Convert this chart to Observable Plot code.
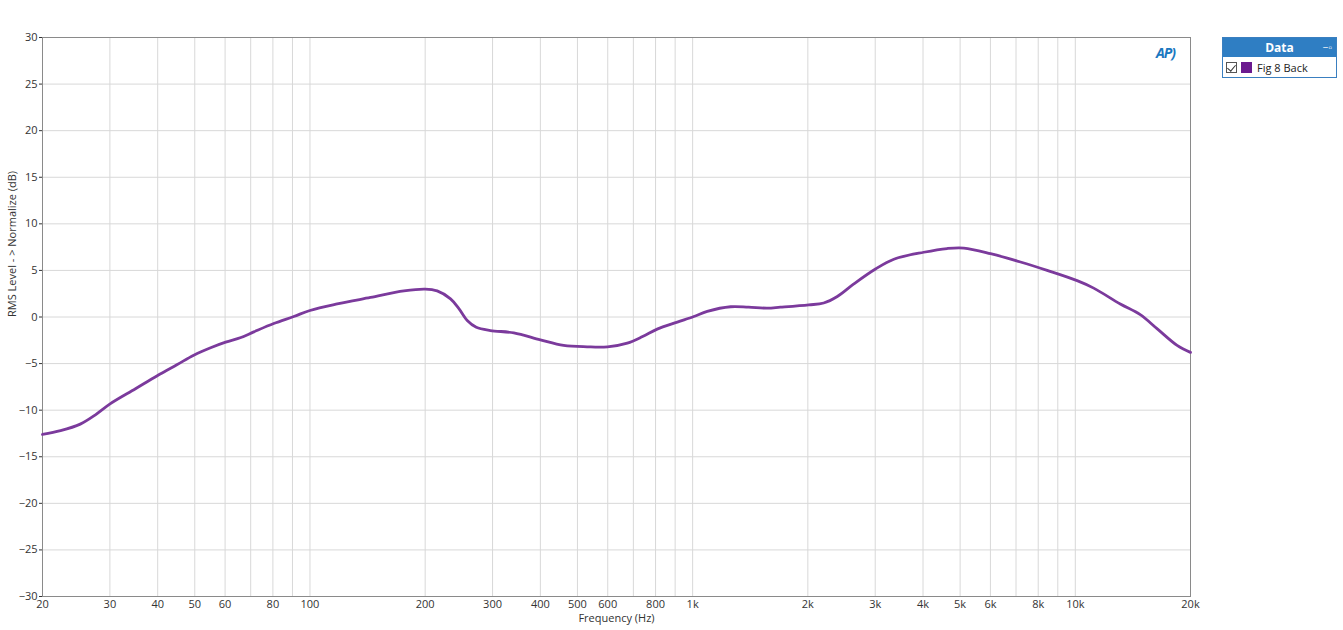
<!DOCTYPE html>
<html>
<head>
<meta charset="utf-8">
<script src="https://cdn.jsdelivr.net/npm/d3@7"></script>
<script src="https://cdn.jsdelivr.net/npm/@observablehq/plot@0.6"></script>
<style>
  body { margin: 0; background: #fff; font-family: "Open Sans", "Noto Sans", sans-serif; }
  #wrap { position: relative; width: 1343px; height: 630px; }
  #logo { position: absolute; left: 1156px; top: 43px; color: #1b78c0; font: italic bold 14px "Open Sans", sans-serif; letter-spacing: -1px; }
  #legend { position: absolute; left: 1222px; top: 37px; width: 115px; height: 41px; border: 1px solid #3a7fc0; background: #fff; box-sizing: border-box; }
  #legend .hd { height: 19px; background: #2f7ec3; color: #fff; font: bold 12px "Open Sans", sans-serif; text-align: center; line-height: 19px; position: relative; }
  #legend .hd .pin { position: absolute; right: 4px; top: 0px; font-size: 10px; font-weight: normal; }
  #legend .row { height: 20px; display: flex; align-items: center; font: 11px "Open Sans", sans-serif; color: #222; }
  #legend .cb { width: 11px; height: 11px; border: 1px solid #555; box-sizing: border-box; margin-left: 3px; position: relative; }
  #legend .cb::after { content: ""; position: absolute; left: 2px; top: 0px; width: 4px; height: 7px; border-right: 1.3px solid #333; border-bottom: 1.3px solid #333; transform: rotate(40deg); }
  #legend .sw { width: 11px; height: 11px; background: #6b1a8f; margin-left: 4px; margin-right: 5px; }
</style>
</head>
<body>
<div id="wrap">
  <div id="chart"></div>
  <div id="logo">AP)</div>
  <div id="legend">
    <div class="hd">Data<span class="pin">&#x2212;&#x25AB;</span></div>
    <div class="row"><div class="cb"></div><div class="sw"></div><span id="legname"></span></div>
  </div>
</div>
<script>
const seriesName = "Fig 8 Back";
const freq = [20, 22.3, 25.1, 27.5, 30.1, 35, 39.9, 45, 49.7, 55, 60.2, 66, 71.3, 80.4, 90.7, 100, 117.8, 143.9, 176, 200, 215, 233, 245, 258, 272, 296, 341, 400, 460, 530, 599, 675, 740, 808, 912, 1007, 1092, 1257, 1400, 1567, 1695, 2011, 2200, 2388, 2638, 3005, 3356, 4017, 4624, 5113, 6004, 7190, 8440, 10110, 11170, 13110, 14780, 16350, 18450, 20000];
const level = [-12.6, -12.2, -11.5, -10.5, -9.3, -7.7, -6.3, -5.1, -4.1, -3.3, -2.7, -2.2, -1.6, -0.7, 0.05, 0.7, 1.4, 2.1, 2.8, 3.0, 2.8, 1.95, 0.9, -0.4, -1.1, -1.45, -1.7, -2.45, -3.05, -3.2, -3.2, -2.8, -2.1, -1.3, -0.55, 0.05, 0.6, 1.1, 1.05, 0.95, 1.05, 1.3, 1.5, 2.2, 3.55, 5.15, 6.2, 6.95, 7.35, 7.4, 6.8, 5.9, 5.0, 3.9, 3.1, 1.4, 0.25, -1.25, -3.05, -3.8];
const xTicks = [20, 30, 40, 50, 60, 80, 100, 200, 300, 400, 500, 600, 800, 1000, 2000, 3000, 4000, 5000, 6000, 8000, 10000, 20000];
const xGrid = [20, 30, 40, 50, 60, 70, 80, 90, 100, 200, 300, 400, 500, 600, 700, 800, 900, 1000, 2000, 3000, 4000, 5000, 6000, 7000, 8000, 9000, 10000, 20000];
const yTicks = [30, 25, 20, 15, 10, 5, 0, -5, -10, -15, -20, -25, -30];

document.getElementById("legname").textContent = seriesName;
const data = freq.map((f, i) => ({f, v: level[i]}));
const fmt = f => f >= 1000 ? (f / 1000) + "k" : String(f);

const chart = Plot.plot({
  width: 1343,
  height: 630,
  marginLeft: 42,
  marginRight: 153,
  marginTop: 37,
  marginBottom: 34,
  style: {fontFamily: "'Open Sans', 'Noto Sans', sans-serif", fontSize: "11px", color: "#333", background: "#fff"},
  x: {type: "log", domain: [20, 20000], label: null, axis: null},
  y: {domain: [-30, 30], label: null},
  marks: [
    Plot.ruleX(xGrid, {stroke: "#d8d8d8", strokeWidth: 1}),
    Plot.ruleY(yTicks, {stroke: "#d8d8d8", strokeWidth: 1}),
    Plot.frame({stroke: "#8a8a8a", strokeWidth: 1}),
    Plot.text(xTicks, {x: d => d, text: fmt, frameAnchor: "bottom", lineAnchor: "top", dy: 4, fill: "#333", fontSize: 11}),
    Plot.axisY({ticks: yTicks, tickSize: 3, tickPadding: 2, label: null}),
    Plot.text(["Frequency (Hz)"], {frameAnchor: "bottom", dy: 25, fill: "#333", fontSize: 11}),
    Plot.text(["RMS Level - > Normalize (dB)"], {frameAnchor: "left", dx: -30, rotate: -90, fill: "#333", fontSize: 11}),
    Plot.line(data, {x: "f", y: "v", stroke: "#7b3a9c", strokeWidth: 2.8, curve: "catmull-rom"})
  ]
});
document.getElementById("chart").appendChild(chart);
</script>
</body>
</html>
